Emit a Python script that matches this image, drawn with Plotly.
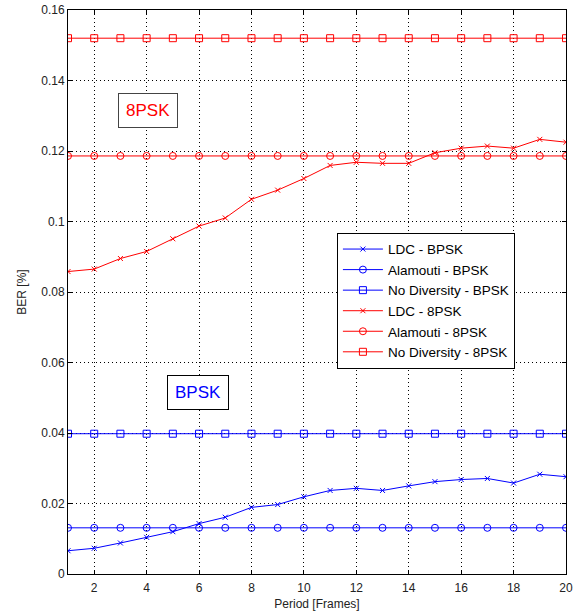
import plotly.graph_objects as go

periods = list(range(1, 21))

ldc_bpsk = [0.0066, 0.0073, 0.0088, 0.0104, 0.0120, 0.0143, 0.0161, 0.0189, 0.0197, 0.0219,
            0.0237, 0.0243, 0.0237, 0.0250, 0.0262, 0.0268, 0.0271, 0.0258, 0.0283, 0.0276]
alamouti_bpsk = [0.0131] * 20
nodiv_bpsk = [0.0398] * 20

ldc_8psk = [0.0858, 0.0865, 0.0895, 0.0915, 0.0951, 0.0987, 0.1010, 0.1063, 0.1089, 0.1122,
            0.1159, 0.1168, 0.1165, 0.1165, 0.1195, 0.1208, 0.1214, 0.1208, 0.1233, 0.1225]
alamouti_8psk = [0.1186] * 20
nodiv_8psk = [0.1520] * 20

series = [
    ("LDC - BPSK", ldc_bpsk, "blue", "x-thin-open", 5),
    ("Alamouti - BPSK", alamouti_bpsk, "blue", "circle-open", 7),
    ("No Diversity - BPSK", nodiv_bpsk, "blue", "square-open", 7),
    ("LDC - 8PSK", ldc_8psk, "red", "x-thin-open", 5),
    ("Alamouti - 8PSK", alamouti_8psk, "red", "circle-open", 7),
    ("No Diversity - 8PSK", nodiv_8psk, "red", "square-open", 7),
]

fig = go.Figure()
for name, vals, color, sym, size in series:
    fig.add_trace(go.Scatter(
        x=periods, y=vals, name=name, mode="lines+markers",
        line=dict(color=color, width=1),
        marker=dict(symbol=sym, size=size, color=color, line=dict(color=color, width=1)),
    ))

font = "Liberation Sans, Arial, sans-serif"
axis_common = dict(
    showline=True, linecolor="black", linewidth=1, mirror="ticks",
    ticks="inside", ticklen=4, tickcolor="black",
    showgrid=True, gridcolor="black", griddash="1px,3px", gridwidth=1,
    zeroline=False, automargin=False, ticklabeloverflow="allow",
    tickfont=dict(family=font, size=12, color="#222"),
)

fig.update_layout(
    width=574, height=615,
    margin=dict(l=68, r=8, t=10, b=41),
    paper_bgcolor="white", plot_bgcolor="white",
    font=dict(family=font, size=12, color="#222"),
    xaxis=dict(range=[1, 20], tickvals=list(range(2, 21, 2)), ticklabelstandoff=3,
               title=dict(text="Period [Frames]", standoff=5, font=dict(size=12)), **axis_common),
    yaxis=dict(range=[0, 0.16], tickvals=[0, 0.02, 0.04, 0.06, 0.08, 0.1, 0.12, 0.14, 0.16],
               ticktext=["0", "0.02", "0.04", "0.06", "0.08", "0.1", "0.12", "0.14", "0.16"],
               title=dict(text="BER [%]", standoff=12, font=dict(size=12)), **axis_common),
    legend=dict(x=0.54, y=0.605, xanchor="left", yanchor="top",
                bgcolor="white", bordercolor="black", borderwidth=1,
                font=dict(family=font, size=13.5, color="black"),
                itemwidth=40, tracegroupgap=0),
    showlegend=True,
)

fig.add_annotation(x=4.05, y=0.1315, text="8PSK", showarrow=False,
                   font=dict(family=font, size=17, color="red"),
                   bordercolor="#444", borderwidth=1, borderpad=7, bgcolor="white")
fig.add_annotation(x=5.96, y=0.0516, text="BPSK", showarrow=False,
                   font=dict(family=font, size=17, color="blue"),
                   bordercolor="black", borderwidth=1, borderpad=7, bgcolor="white")

fig.write_html("out.html", config={"displayModeBar": False},
               post_script="document.body.style.margin='0';document.body.style.overflow='hidden';")
